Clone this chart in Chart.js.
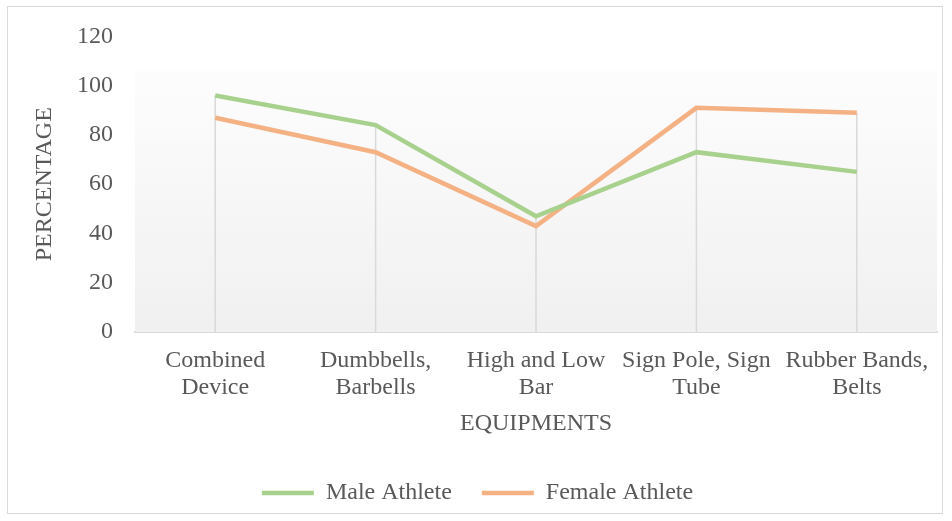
<!DOCTYPE html>
<html>
<head>
<meta charset="utf-8">
<script src="https://cdn.jsdelivr.net/npm/chart.js@4"></script>
<style>
  html, body { margin: 0; padding: 0; background: #fff; }
  #frame { position: absolute; left: 7px; top: 6px; width: 936px; height: 508px; border: 1.5px solid #d9d9d9; box-sizing: border-box; }
  #wrap { position: absolute; left: 0; top: 0; width: 952px; height: 521px; }
</style>
</head>
<body>
<div id="frame"></div>
<div id="wrap"><canvas id="chart" width="952" height="521"></canvas></div>
<script>
// data
const categories = [
  ['Combined', 'Device'],
  ['Dumbbells,', 'Barbells'],
  ['High and Low', 'Bar'],
  ['Sign Pole, Sign', 'Tube'],
  ['Rubber Bands,', 'Belts']
];
const maleAthlete = [96, 84, 47, 73, 65];
const femaleAthlete = [87, 73, 43, 91, 89];
const yTicks = [0, 20, 40, 60, 80, 100, 120];

const FONT = "'Liberation Serif', 'Times New Roman', serif";
const TXT = '#595959';

// plot area background + drop lines
const plotBg = {
  id: 'plotBg',
  beforeDatasetsDraw(chart) {
    const { ctx, chartArea: a, scales } = chart;
    const top = scales.y.getPixelForValue(106);
    const g = ctx.createLinearGradient(0, top, 0, a.bottom);
    g.addColorStop(0, '#fdfdfd');
    g.addColorStop(1, '#f0f0f0');
    ctx.save();
    ctx.fillStyle = g;
    ctx.fillRect(a.left, top, a.right - a.left, a.bottom - top);
    // drop lines from highest point to axis
    ctx.strokeStyle = '#d9d9d9';
    ctx.lineWidth = 1.5;
    categories.forEach((c, i) => {
      const x = scales.x.getPixelForValue(i);
      const hi = Math.max(maleAthlete[i], femaleAthlete[i]);
      ctx.beginPath();
      ctx.moveTo(x, scales.y.getPixelForValue(hi));
      ctx.lineTo(x, a.bottom);
      ctx.stroke();
    });
    ctx.restore();
  }
};

new Chart(document.getElementById('chart'), {
  type: 'line',
  data: {
    labels: categories,
    datasets: [
      { label: 'Male Athlete', data: maleAthlete, borderColor: '#a9d18e', backgroundColor: '#a9d18e', borderWidth: 4.5, pointRadius: 0, tension: 0 },
      { label: 'Female Athlete', data: femaleAthlete, borderColor: '#f4b183', backgroundColor: '#f4b183', borderWidth: 4.5, pointRadius: 0, tension: 0 }
    ]
  },
  options: {
    responsive: false,
    animation: false,
    layout: { padding: { left: 18, right: 15, top: 35, bottom: 6 } },
    scales: {
      y: {
        min: 0, max: 120,
        afterBuildTicks: s => { s.ticks = yTicks.map(v => ({ value: v })); },
        afterFit: s => { s.width = 117; },
        grid: { display: false, drawTicks: false },
        border: { display: false },
        ticks: { color: TXT, font: { family: FONT, size: 24 }, padding: 22 },
        title: { display: true, text: 'PERCENTAGE', color: TXT, font: { family: FONT, size: 24 }, padding: 12 }
      },
      x: {
        offset: true,
        afterFit: s => { s.height = 119; },
        grid: { display: false, drawTicks: false },
        border: { display: true, color: '#d9d9d9', width: 2 },
        ticks: { color: TXT, font: { family: FONT, size: 24, lineHeight: 1.125 }, padding: 15, maxRotation: 0, autoSkip: false },
        title: { display: true, text: 'EQUIPMENTS', color: TXT, font: { family: FONT, size: 24 }, padding: { top: 4, bottom: 13 } }
      }
    },
    plugins: {
      legend: {
        position: 'bottom',
        labels: { usePointStyle: true, pointStyle: 'line', pointStyleWidth: 52, color: TXT, font: { family: FONT, size: 24 }, padding: 30 }
      },
      tooltip: { enabled: false }
    }
  },
  plugins: [plotBg]
});
</script>
</body>
</html>
